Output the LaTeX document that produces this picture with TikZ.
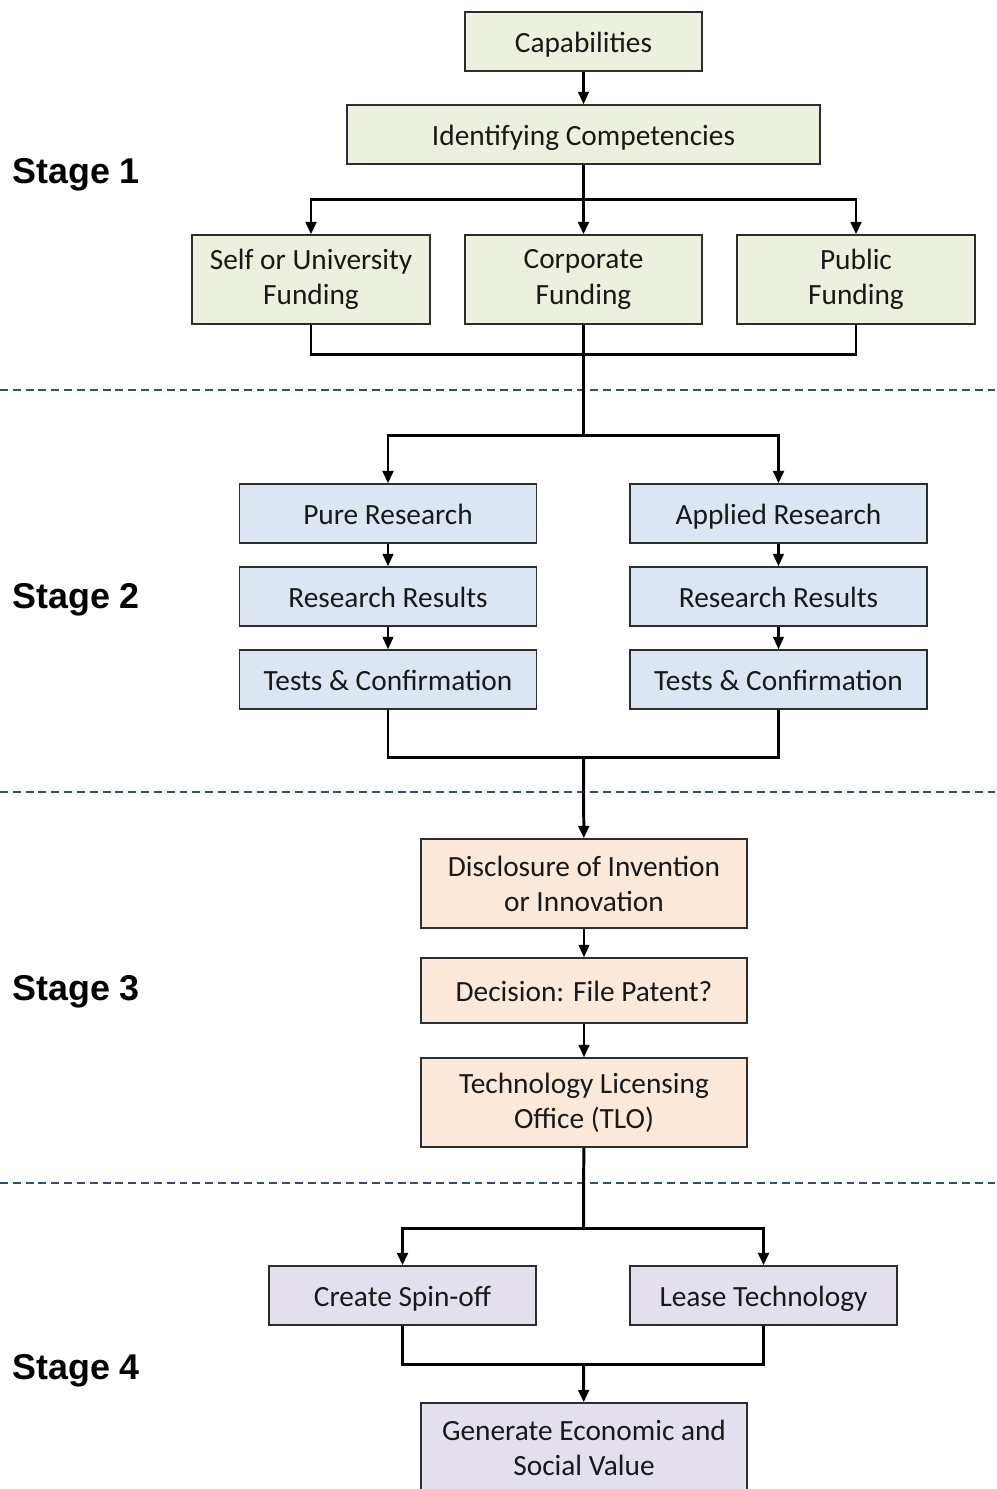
\documentclass[tikz,border=0pt]{standalone}
\usepackage{fontspec}
\setmainfont{Carlito}
\newfontfamily\stagefont{Liberation Sans}
\usetikzlibrary{arrows.meta}

\definecolor{fillgreen}{RGB}{235,241,222}
\definecolor{fillblue}{RGB}{220,230,242}
\definecolor{fillorange}{RGB}{253,233,217}
\definecolor{fillpurple}{RGB}{228,223,236}
\definecolor{sepblue}{RGB}{44,78,128}
\definecolor{boxline}{RGB}{45,45,45}

\begin{document}
\begin{tikzpicture}[x=0.02cm, y=-0.02cm,
    box/.style={draw=boxline, line width=0.85pt, align=center, inner sep=0pt,
                font=\fontsize{16.7}{20}\selectfont, text=black!90},
    oneline/.style={text height=14pt, text depth=2pt},
    arr/.style={line width=1.2pt, -{Triangle[length=7pt,width=6pt]}},
    bus/.style={line width=1.7pt},
    busarr/.style={line width=1.7pt, -{Triangle[length=7pt,width=6pt]}},
    sep/.style={sepblue, line width=1.1pt, dash pattern=on 4.5pt off 2.8pt},
    stagelbl/.style={anchor=west, inner sep=0pt, font=\stagefont\bfseries\fontsize{20.4}{24}\selectfont}]
    \useasboundingbox (0,0) rectangle (997,1489);

    % ETAPA 1
    \node[box, oneline, fill=fillgreen, minimum width=4.74cm, minimum height=1.18cm] (cap) at (583.5,41.5) {Capabilities};
    \node[box, oneline, fill=fillgreen, minimum width=9.46cm, minimum height=1.18cm] (idc) at (583.5,134.5) {Identifying Competencies};
    \node[box, fill=fillgreen, minimum width=4.76cm, minimum height=1.78cm] (self) at (311,279.5) {Self or University\\Funding};
    \node[box, fill=fillgreen, minimum width=4.74cm, minimum height=1.78cm] (corp) at (583.5,279.5) {Corporate\\Funding};
    \node[box, fill=fillgreen, minimum width=4.76cm, minimum height=1.78cm] (pub) at (856,279.5) {Public\\Funding};

    % ETAPA 2
    \foreach \nm/\xx in {pure/388, appl/778.5} {
        \node[box, oneline, fill=fillblue, minimum width=5.94cm, minimum height=1.18cm] (\nm3) at (\xx,679.5) {Tests \& Confirmation};
        \node[box, oneline, fill=fillblue, minimum width=5.94cm, minimum height=1.18cm] (\nm2) at (\xx,596.5) {Research Results};
    }
    \node[box, oneline, fill=fillblue, minimum width=5.94cm, minimum height=1.18cm] (pure1) at (388,513.5) {Pure Research};
    \node[box, oneline, fill=fillblue, minimum width=5.94cm, minimum height=1.18cm] (appl1) at (778.5,513.5) {Applied Research};

    % ETAPA 3
    \node[box, fill=fillorange, minimum width=6.52cm, minimum height=1.78cm] (disc) at (584,883.5) {Disclosure of Invention\\or Innovation};
    \node[box, oneline, fill=fillorange, minimum width=6.52cm, minimum height=1.30cm] (dec) at (584,990.5) {Decision: File Patent?};
    \node[box, fill=fillorange, minimum width=6.52cm, minimum height=1.78cm] (tlo) at (584,1102.5) {Technology Licensing\\Office (TLO)};

    % ETAPA 4
    \node[box, oneline, fill=fillpurple, minimum width=5.34cm, minimum height=1.18cm] (spin) at (402.5,1295.5) {Create Spin-off};
    \node[box, oneline, fill=fillpurple, minimum width=5.34cm, minimum height=1.18cm] (lease) at (763.5,1295.5) {Lease Technology};
    \node[box, fill=fillpurple, minimum width=6.52cm, minimum height=1.80cm] (gen) at (584,1448) {Generate Economic and\\Social Value};

    % Punts d'unió
    \coordinate (s1) at (583.5,199);
    \coordinate (m1) at (583.5,354);
    \coordinate (s2) at (583.5,435);
    \coordinate (m2) at (583.5,757);
    \coordinate (s4) at (583.5,1228);
    \coordinate (m4) at (583.5,1364);

    % SEPARADORS
    \foreach \yy in {390, 792, 1183}
        \draw[sep] (0,\yy) -- (997,\yy);

    % CONNEXIONS
    \draw[arr] (cap) -- (idc);
    \draw[bus] (idc) -- (s1);
    \draw[busarr] (s1) -| (self);
    \draw[busarr] (s1) -- (corp);
    \draw[busarr] (s1) -| (pub);
    \draw[bus] (self) |- (m1) -| (pub);
    \draw[bus] (corp) -- (s2);
    \draw[busarr] (s2) -| (pure1);
    \draw[busarr] (s2) -| (appl1);
    \foreach \nm in {pure, appl} {
        \draw[arr] (\nm1) -- (\nm2);
        \draw[arr] (\nm2) -- (\nm3);
    }
    \draw[bus] (pure3) |- (m2) -| (appl3);
    \draw[busarr] (m2) -- (disc);
    \draw[arr] (disc) -- (dec);
    \draw[arr] (dec) -- (tlo);
    \draw[bus] (tlo) -- (s4);
    \draw[busarr] (s4) -| (spin);
    \draw[busarr] (s4) -| (lease);
    \draw[bus] (spin) |- (m4) -| (lease);
    \draw[busarr] (m4) -- (gen);

    % ETIQUETES D'ETAPA
    \node[stagelbl] (st1) at (12,175) {Stage 1};
    \node[stagelbl] (st2) at (12,600) {Stage 2};
    \node[stagelbl] (st3) at (12,992) {Stage 3};
    \node[stagelbl] (st4) at (12,1371) {Stage 4};
\end{tikzpicture}
\end{document}
